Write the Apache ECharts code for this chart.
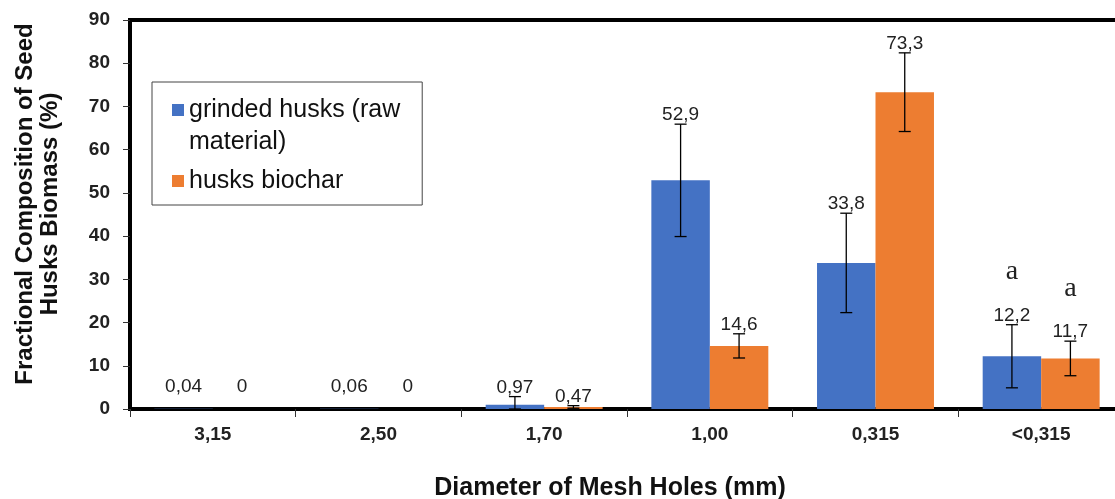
<!DOCTYPE html>
<html>
<head>
<meta charset="utf-8">
<script src="https://cdn.jsdelivr.net/npm/echarts@6/dist/echarts.min.js"></script>
<style>html,body{margin:0;padding:0;background:#fff;overflow:hidden;}#c{width:1115px;height:499px;}</style>
</head>
<body>
<div id="c"></div>
<script>
const categories = ['3,15', '2,50', '1,70', '1,00', '0,315', '<0,315'];
const seriesNames = ['grinded husks (raw material)', 'husks biochar'];
const rawValues = [0.04, 0.06, 0.97, 52.9, 33.8, 12.2];
const biocharValues = [0, 0, 0.47, 14.6, 73.3, 11.7];
const rawErrors = [0, 0, 1.9, 13.0, 11.5, 7.3];
const biocharErrors = [0, 0, 0.3, 2.8, 9.1, 4.0];
const rawAnnot = ['', '', '', '', '', 'a'];
const biocharAnnot = ['', '', '', '', '', 'a'];
const yTicks = [0, 10, 20, 30, 40, 50, 60, 70, 80, 90];

const BLUE = '#4472C4', ORANGE = '#ED7D31';
const CAT_GAP = 0.294;
const FONT = '"Liberation Sans", Arial, sans-serif';

function fmt(v) { return String(v).replace('.', ','); }

function errSeries(values, errors, annots, sideIdx) {
  return {
    type: 'custom',
    silent: true,
    z: 5,
    data: values.map((v, i) => [i, v, errors[i]]),
    renderItem: function (params, api) {
      const i = api.value(0), v = api.value(1), e = api.value(2);
      const annot = annots[i];
      const band = api.size([1, 0])[0];
      const barW = band * (1 - CAT_GAP) / 2;
      const cx = api.coord([i, 0])[0] + (sideIdx === 0 ? -barW / 2 : barW / 2);
      const yTop = api.coord([i, v + e])[1];
      const yBot = api.coord([i, Math.max(v - e, 0)])[1];
      const cap = 6;
      const children = [];
      if (e > 0) {
        const st = { stroke: '#000', lineWidth: 1.3 };
        children.push({ type: 'line', shape: { x1: cx, y1: yTop, x2: cx, y2: yBot }, style: st });
        children.push({ type: 'line', shape: { x1: cx - cap, y1: yTop, x2: cx + cap, y2: yTop }, style: st });
        children.push({ type: 'line', shape: { x1: cx - cap, y1: yBot, x2: cx + cap, y2: yBot }, style: st });
      }
      const labC = yTop - (e > 0 ? 9 : 22);
      children.push({
        type: 'text',
        style: {
          x: cx, y: labC, text: fmt(v), align: 'center', verticalAlign: 'middle',
          fill: '#222', font: '19px ' + FONT
        }
      });
      if (annot) {
        children.push({
          type: 'text',
          style: {
            x: cx, y: labC - 44, text: annot, align: 'center', verticalAlign: 'middle',
            fill: '#222', font: '28px "Liberation Serif", "Times New Roman", serif'
          }
        });
      }
      return { type: 'group', children: children };
    }
  };
}

const chart = echarts.init(document.getElementById('c'), null, { renderer: 'canvas' });
chart.setOption({
  animation: false,
  backgroundColor: '#fff',
  grid: {
    left: 130, top: 20, bottom: 90, width: 994,
    outerBoundsMode: 'none', containLabel: false,
    show: true, borderColor: '#000', borderWidth: 4, backgroundColor: 'transparent'
  },
  legend: {
    left: 152, top: 82,
    orient: 'vertical',
    data: [
      { name: seriesNames[0], icon: 'path://M0,0h12v12h-12z M0,44h0.05v-0.05h-0.05z' },
      { name: seriesNames[1], icon: 'path://M0,0h0.05v0.05h-0.05z M0,16h12v12h-12z M0,44h0.05v-0.05h-0.05z' }
    ],
    itemWidth: 12, itemHeight: 44, itemGap: 1,
    borderColor: '#444', borderWidth: 1,
    padding: [12, 22, 2, 20],
    formatter: function (n) { return n === seriesNames[0] ? 'grinded husks (raw\nmaterial)' : n; },
    textStyle: { fontFamily: FONT, fontSize: 25, lineHeight: 32, color: '#111' }
  },
  xAxis: {
    type: 'category',
    data: categories,
    axisLine: { lineStyle: { color: '#000', width: 4 } },
    axisTick: { show: true, inside: false, length: 8, lineStyle: { color: '#333', width: 1 } },
    axisLabel: { margin: 16, color: '#222', fontWeight: 'bold', fontSize: 19, fontFamily: FONT }
  },
  yAxis: {
    type: 'value', min: 0, max: 90, interval: 10,
    axisLine: { show: true, lineStyle: { color: '#000', width: 4 } },
    axisTick: { show: true, inside: false, length: 7, lineStyle: { color: '#333', width: 1 } },
    axisLabel: {
      margin: 20, color: '#222', fontWeight: 'bold', fontSize: 19, fontFamily: FONT,
      formatter: function (v) { return yTicks.indexOf(v) >= 0 ? String(v) : ''; }
    },
    splitLine: { show: false }
  },
  series: [
    { name: seriesNames[0], type: 'bar', data: rawValues, barGap: '0%', barCategoryGap: (CAT_GAP * 100) + '%', itemStyle: { color: BLUE } },
    { name: seriesNames[1], type: 'bar', data: biocharValues, barGap: '0%', barCategoryGap: (CAT_GAP * 100) + '%', itemStyle: { color: ORANGE } },
    errSeries(rawValues, rawErrors, rawAnnot, 0),
    errSeries(biocharValues, biocharErrors, biocharAnnot, 1)
  ],
  graphic: [
    {
      type: 'text', x: 610, y: 488,
      style: { text: 'Diameter of Mesh Holes (mm)', x: 0, y: 0, align: 'center', verticalAlign: 'middle', fill: '#111', font: 'bold 25px ' + FONT }
    },
    {
      type: 'text', x: 38, y: 204, rotation: Math.PI / 2,
      style: { text: 'Fractional Composition of Seed\nHusks Biomass (%)', x: 0, y: 0, align: 'center', verticalAlign: 'middle', lineHeight: 25, fill: '#111', font: 'bold 24px ' + FONT }
    }
  ]
});
</script>
</body>
</html>
